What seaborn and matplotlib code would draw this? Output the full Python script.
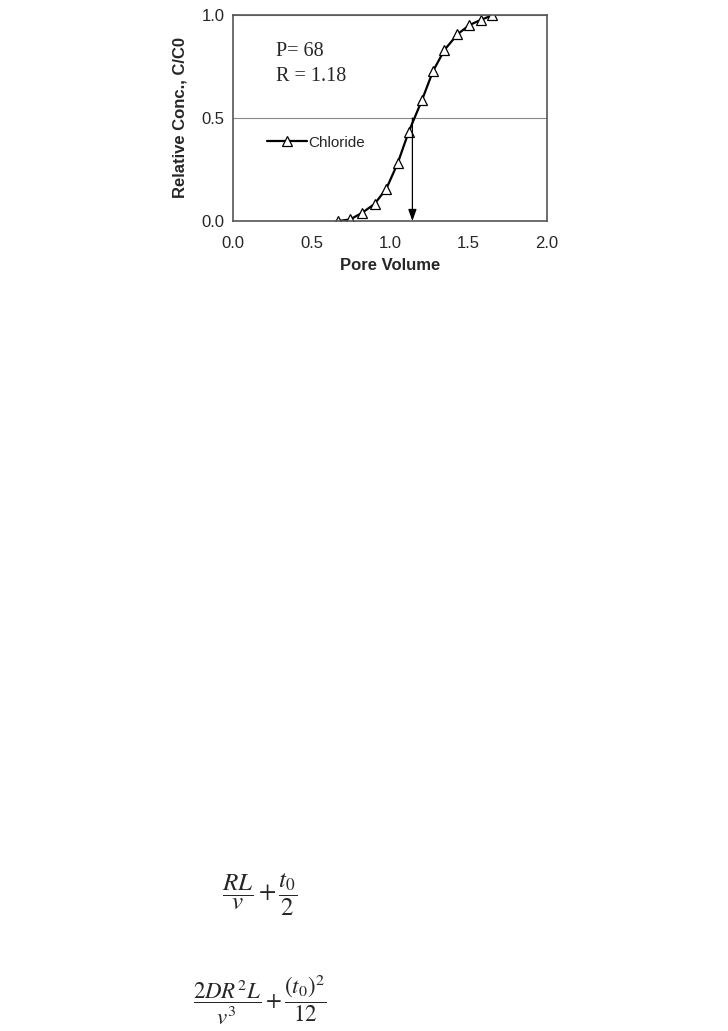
import matplotlib
matplotlib.use("Agg")
import matplotlib.pyplot as plt
import seaborn as sns
import pandas as pd

pore_volume = [0.670, 0.747, 0.823, 0.902, 0.977, 1.049, 1.119, 1.204, 1.274,
               1.347, 1.430, 1.506, 1.579, 1.651]
rel_conc = [0.000, 0.008, 0.040, 0.083, 0.157, 0.280, 0.432, 0.587, 0.727,
            0.830, 0.906, 0.951, 0.976, 0.998]
series_name = "Chloride"
x_ticks = [0.0, 0.5, 1.0, 1.5, 2.0]
y_ticks = [0.0, 0.5, 1.0]
arrow_x = 1.143
peclet_text = "P= 68"
retard_text = "R = 1.18"

df = pd.DataFrame({"Pore Volume": pore_volume, "C": rel_conc, "s": series_name})

sns.set_style("white")
plt.rcParams["font.family"] = ["Liberation Sans", "DejaVu Sans"]
plt.rcParams["mathtext.fontset"] = "stix"

fig = plt.figure(figsize=(7.28, 10.31), dpi=100)
ax = fig.add_axes([0.320, 0.7856, 0.4313, 0.1999])

sns.lineplot(data=df, x="Pore Volume", y="C", hue="s", palette=["black"],
             marker="^", markersize=6.5, markerfacecolor="white",
             markeredgecolor="black", markeredgewidth=0.9, linewidth=1.6,
             ax=ax, sort=False)

ax.set_xlim(0, 2.0)
ax.set_ylim(0, 1.0)
ax.set_xticks(x_ticks)
ax.set_yticks(y_ticks)
ax.set_xticklabels([f"{v:.1f}" for v in x_ticks], fontsize=12)
ax.set_yticklabels([f"{v:.1f}" for v in y_ticks], fontsize=12)
ax.tick_params(axis="x", length=0, pad=11)
ax.tick_params(axis="y", length=0, pad=6)
ax.yaxis.grid(True, color="#888888", linewidth=0.8)
ax.xaxis.grid(False)
for sp in ax.spines.values():
    sp.set_color("#555555")
    sp.set_linewidth(1.2)
ax.set_xlabel("Pore Volume", fontsize=12, fontweight="bold", labelpad=5)
ax.set_ylabel("Relative Conc., C/C0", fontsize=12, fontweight="bold", labelpad=10)

ax.annotate("", xy=(arrow_x, 0.0), xytext=(arrow_x, 0.5),
            arrowprops=dict(arrowstyle="-|>,head_width=0.25,head_length=0.7",
                            color="black", lw=0.9, shrinkA=0, shrinkB=0))

ax.text(0.272, 0.822, peclet_text, fontsize=14.5, family="Liberation Serif",
        va="center", ha="left")
ax.text(0.272, 0.700, retard_text, fontsize=14.5, family="Liberation Serif",
        va="center", ha="left")

leg = ax.legend(loc="center left", bbox_to_anchor=(0.085, 0.38), frameon=False,
                fontsize=11, handlelength=2.6, handletextpad=0.1, borderpad=0)

fig.text(260 / 728, 1 - 895 / 1031, r"$\dfrac{RL}{v}+\dfrac{t_0}{2}$",
         fontsize=18, ha="center", va="center")
fig.text(260 / 728, 1 - 1000 / 1031, r"$\dfrac{2DR^2L}{v^3}+\dfrac{(t_0)^2}{12}$",
         fontsize=16.5, ha="center", va="center")

fig.savefig("out.png", dpi=100)
